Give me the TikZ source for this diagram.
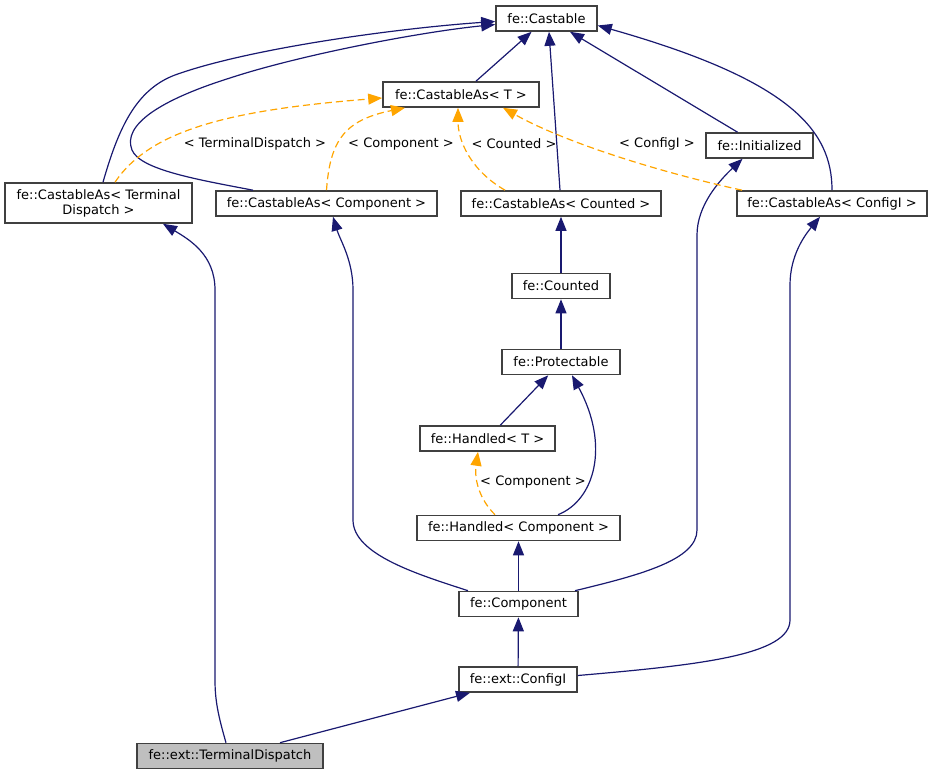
\documentclass[tikz,border=0pt]{standalone}
\usepackage{fontspec}
\setmainfont{DejaVu Sans}
\usetikzlibrary{arrows.meta}
\definecolor{edgeblue}{HTML}{191970}
\definecolor{tmplorange}{HTML}{FFA500}
\definecolor{boxgray}{HTML}{404040}
\definecolor{focusfill}{HTML}{BFBFBF}
\tikzset{
  cls/.style={draw=boxgray, fill=white, line width=1.6pt, minimum height=25pt, inner sep=0pt, font=\fontsize{13}{15}\selectfont},
  inh/.style={color=edgeblue, line width=1.2pt, -{Triangle[length=14pt,width=11pt]}},
  tmpl/.style={color=tmplorange, line width=1.2pt, dash pattern=on 7pt off 4pt, -{Triangle[length=14pt,width=11pt]}},
  lbl/.style={font=\fontsize{13}{15}\selectfont, inner sep=0pt}
}
\begin{document}
\begin{tikzpicture}[x=1pt,y=-1pt]
\useasboundingbox (0,0) rectangle (933,775);
% nodes
\node[cls, minimum width=101pt] (castable) at (546.5,18.5) {fe::Castable};
\node[cls, minimum width=156pt] (castT) at (461,94.5) {fe::CastableAs< T >};
\node[cls, minimum width=107pt] (init) at (759.5,145.5) {fe::Initialized};
\node[cls, minimum width=187pt, minimum height=40pt, align=center] (ctd) at (98.5,203) {fe::CastableAs< Terminal\\Dispatch >};
\node[cls, minimum width=221pt] (ccomp) at (326.5,203.5) {fe::CastableAs< Component >};
\node[cls, minimum width=200pt] (ccount) at (561,203.5) {fe::CastableAs< Counted >};
\node[cls, minimum width=190pt] (cconf) at (832,203.5) {fe::CastableAs< ConfigI >};
\node[cls, minimum width=98pt] (counted) at (561,286) {fe::Counted};
\node[cls, minimum width=118pt] (prot) at (561,362) {fe::Protectable};
\node[cls, minimum width=135pt] (ht) at (487.5,438.5) {fe::Handled< T >};
\node[cls, minimum width=203pt] (hc) at (518.5,528) {fe::Handled< Component >};
\node[cls, minimum width=119pt] (comp) at (518.5,604) {fe::Component};
\node[cls, minimum width=118pt] (configi) at (518,679.5) {fe::ext::ConfigI};
\node[cls, minimum width=186pt, fill=focusfill] (td) at (230,756) {fe::ext::TerminalDispatch};
% inheritance edges
\draw[inh] (castT) -- (castable);
\draw[inh] ([xshift=-1pt]ccount.north) -- ([xshift=2.5pt]castable.south);
\draw[inh] ([xshift=-22pt]init.north) -- ([xshift=23.5pt]castable.south);
\draw[inh] (cconf.north) .. controls (832,130) and (790,80) .. ([yshift=-7pt]castable.east);
\draw[inh] ([xshift=4.5pt]ctd.north) .. controls (118,130) and (135,90) .. (175,75) .. controls (250,48) and (400,28) .. ([yshift=-3pt]castable.west);
\draw[inh] ([xshift=-73.5pt]ccomp.north) .. controls (200,180) and (140,170) .. (132,150) .. controls (122,125) and (160,100) .. (230,78) .. controls (300,55) and (420,32) .. ([yshift=-6pt]castable.west);
\draw[inh] (counted) -- (ccount);
\draw[inh] (prot) -- (counted);
\draw[inh] (ht) -- (prot);
\draw[inh] ([xshift=39.5pt]hc.north) .. controls (595,500) and (610,445) .. ([xshift=11pt]prot.south);
\draw[inh] (comp) -- (hc);
\draw[inh] ([xshift=-50.5pt]comp.north) .. controls (420,575) and (353,555) .. (353,520) -- (353,290) .. controls (353,260) and (340,240) .. ([xshift=6.5pt]ccomp.south);
\draw[inh] ([xshift=56.5pt]comp.north) .. controls (640,575) and (697,560) .. (697,530) -- (697,235) .. controls (697,205) and (720,180) .. ([xshift=-17pt]init.south);
\draw[inh] (configi) -- (comp);
\draw[inh] ([yshift=4pt]configi.east) .. controls (700,665) and (790,655) .. (790,620) -- (790,285) .. controls (790,255) and (805,235) .. ([xshift=-12pt]cconf.south);
\draw[inh] ([xshift=50pt]td.north) -- ([xshift=-48pt]configi.south);
\draw[inh] ([xshift=-4pt]td.north) .. controls (218,715) and (215,700) .. (215,680) -- (215,290) .. controls (215,255) and (190,240) .. ([xshift=64.5pt]ctd.south);
% template edges
\draw[tmpl] ([xshift=16.5pt]ctd.north) .. controls (150,130) and (230,110) .. ([yshift=-3.5pt]castT.west);
\draw[tmpl] (ccomp.north) .. controls (330,140) and (345,120) .. ([xshift=-56pt]castT.south);
\draw[tmpl] ([xshift=-56pt]ccount.north) .. controls (470,170) and (458,140) .. ([xshift=-3pt]castT.south);
\draw[tmpl] ([xshift=-90pt]cconf.north) .. controls (650,170) and (560,140) .. ([xshift=42pt]castT.south);
\draw[tmpl] ([xshift=-23.5pt]hc.north) .. controls (480,500) and (474,480) .. ([xshift=-9.5pt]ht.south);
% labels
\node[lbl] (l1) at (255,144) {< TerminalDispatch >};
\node[lbl] (l2) at (401,144) {< Component >};
\node[lbl] (l3) at (514,144) {< Counted >};
\node[lbl] (l4) at (657,144) {< ConfigI >};
\node[lbl] (l5) at (533,482) {< Component >};
\end{tikzpicture}
\end{document}
